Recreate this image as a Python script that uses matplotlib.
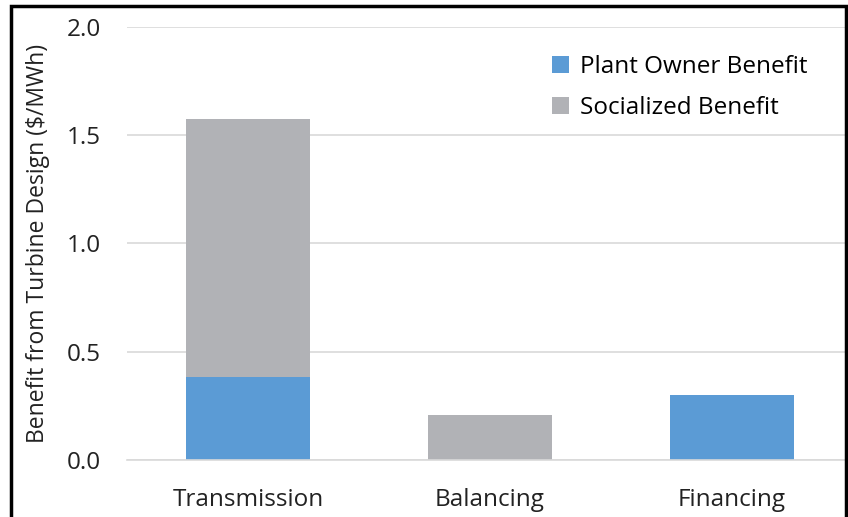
import matplotlib.pyplot as plt
from matplotlib.patches import Rectangle

categories = ['Transmission', 'Balancing', 'Financing']
owner = [0.385, 0.0, 0.30]
socialized = [1.19, 0.21, 0.0]
yticks = [0.0, 0.5, 1.0, 1.5, 2.0]

blue = '#5B9BD5'
gray = '#B1B2B6'

plt.rcParams['font.family'] = ['Open Sans', 'DejaVu Sans']

fig = plt.figure(figsize=(8.48, 5.17), dpi=100)
ax = fig.add_axes([127 / 848, 57 / 517, 726 / 848, 433 / 517])

x = range(len(categories))
ax.bar(x, owner, width=0.512, color=blue, label='Plant Owner Benefit', zorder=3)
ax.bar(x, socialized, width=0.512, bottom=owner, color=gray,
       label='Socialized Benefit', zorder=3)

ax.set_xlim(-0.5, 2.5)
ax.set_ylim(0, 2.0)
ax.set_yticks(yticks)
ax.set_yticklabels([f'{v:.1f}' for v in yticks])
ax.set_xticks(list(x))
ax.set_xticklabels(categories)
ax.tick_params(axis='both', length=0, labelsize=17.5, colors='#222222')
ax.tick_params(axis='y', pad=19)
ax.tick_params(axis='x', pad=20)
ax.grid(axis='y', color='#D9D9D9', linewidth=1.2, zorder=0)
for s in ['top', 'right', 'left']:
    ax.spines[s].set_visible(False)
ax.spines['bottom'].set_color('#D9D9D9')
ax.spines['bottom'].set_linewidth(1.2)
ax.spines['bottom'].set_zorder(4)

ax.set_ylabel('Benefit from Turbine Design ($/MWh)', fontsize=16.5, color='#222222', labelpad=12)

ax.legend(loc='upper left', bbox_to_anchor=(0.555, 0.985), frameon=False, fontsize=17.5,
          handlelength=0.7, handleheight=0.7, handletextpad=0.45, labelspacing=0.68)

# outer frame
fig.patches.append(Rectangle((11 / 848, -0.05), (846 - 11) / 848, 1.05 - 6 / 517,
                             transform=fig.transFigure, fill=False,
                             edgecolor='black', linewidth=2.5))

fig.savefig('out.png', dpi=100)
